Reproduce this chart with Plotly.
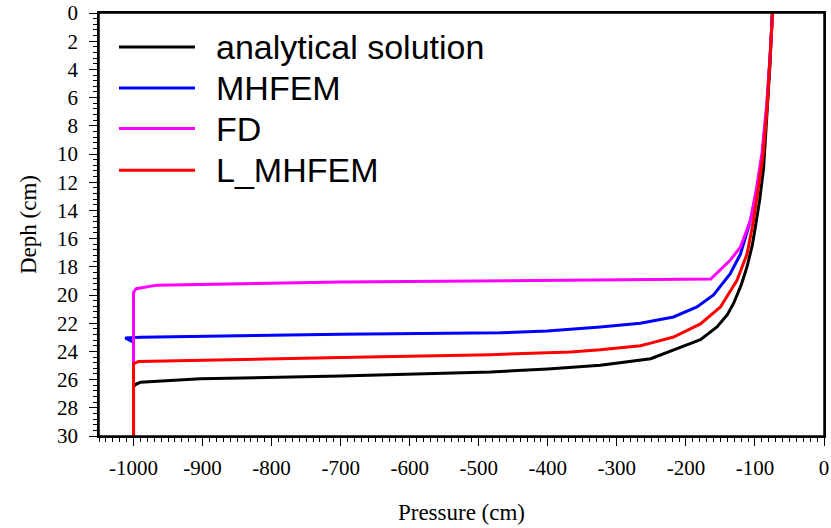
import plotly.graph_objects as go

# ---- data ----
series_names = ["analytical solution", "MHFEM", "FD", "L_MHFEM"]
series_colors = ["#000000", "#0000ff", "#ff00ff", "#ff0000"]

analytical_p = [-1000, -1000, -997, -990, -903, -700, -483, -400, -324, -266, -251,
                -194, -179, -155, -140, -131, -120, -111.5, -104, -99.5, -93.3, -87.5,
                -82, -78, -75]
analytical_z = [30, 26.5, 26.35, 26.18, 25.94, 25.75, 25.46, 25.25, 24.98, 24.6, 24.52,
                23.45, 23.17, 22.27, 21.4, 20.6, 19.3, 18.0, 16.5, 15.2, 13.3, 11.0,
                7.0, 3.5, 0]

mhfem_p = [-1000, -1000, -1012, -990, -700, -469, -401, -324, -266, -251, -218, -184,
           -160, -136, -121, -106.5, -97, -89, -82.5, -78, -74.5]
mhfem_z = [30, 23.35, 23.05, 23.0, 22.79, 22.68, 22.55, 22.27, 22.0, 21.85, 21.56,
           20.85, 20.0, 18.5, 17.1, 14.7, 12.5, 10.0, 6.5, 3.0, 0]

fd_p = [-1000, -1000, -996, -966, -700, -400, -266, -164, -136, -121, -106.5, -98,
        -90, -83, -78, -74.5]
fd_z = [30, 19.8, 19.55, 19.3, 19.08, 18.96, 18.9, 18.87, 17.54, 16.6, 14.7, 12.5,
        10.0, 6.5, 3.0, 0]

lmhfem_p = [-1000, -1000, -993, -910, -700, -483, -367, -324, -266, -251, -218, -179,
            -150, -126, -111.5, -102, -95, -88, -82, -78, -74.5]
lmhfem_z = [30, 24.87, 24.72, 24.63, 24.44, 24.23, 24.04, 23.88, 23.6, 23.41, 22.98,
            22.05, 20.85, 18.96, 17.1, 14.7, 12.5, 10.0, 6.5, 3.0, 0]

x_ticks = [-1000, -900, -800, -700, -600, -500, -400, -300, -200, -100, 0]
y_ticks = list(range(0, 31, 2))

fig = go.Figure()
for name, color, p, z in zip(series_names, series_colors,
                             [analytical_p, mhfem_p, fd_p, lmhfem_p],
                             [analytical_z, mhfem_z, fd_z, lmhfem_z]):
    fig.add_trace(go.Scatter(x=p, y=z, mode="lines", name=name,
                             line=dict(color=color, width=3), showlegend=False))

# plot frame
fig.add_shape(type="rect", xref="paper", yref="paper", x0=0, x1=1, y0=0, y1=1,
              line=dict(color="black", width=1.5), layer="above")

# manual legend (line samples + labels)
leg_y = [46.7, 87.7, 128.3, 170.0]
for name, color, yy in zip(series_names, series_colors, leg_y):
    yp = 1 - (yy - 12.7) / 423
    fig.add_shape(type="line", xref="paper", yref="paper",
                  x0=(119 - 99) / 725, x1=(195 - 99) / 725, y0=yp, y1=yp,
                  line=dict(color=color, width=3))
    fig.add_annotation(text=name, xref="paper", yref="paper",
                       x=(214 - 99) / 725, y=yp,
                       xanchor="left", yanchor="middle", showarrow=False,
                       font=dict(family="Liberation Sans", size=34, color="black"))

serif = "Liberation Serif"
fig.update_layout(
    width=831, height=528,
    margin=dict(l=99, r=7, t=12.7, b=92.3),
    plot_bgcolor="white", paper_bgcolor="white",
    showlegend=False,
    xaxis=dict(range=[-1050, 0], tickvals=x_ticks, ticktext=[str(v) for v in x_ticks],
               automargin=False, ticklabeloverflow="allow",
               ticks="outside", ticklen=8, tickwidth=1.2, tickcolor="black",
               showline=True, linecolor="black", linewidth=1.5, mirror=True,
               showgrid=False, zeroline=False,
               minor=dict(dtick=10, tick0=0, ticks="outside", ticklen=4,
                          tickwidth=1, tickcolor="black", showgrid=False),
               tickfont=dict(family=serif, size=21, color="black"),
               ticklabelstandoff=4,
               title=dict(text="Pressure (cm)", font=dict(family=serif, size=23, color="black"),
                          standoff=25)),
    yaxis=dict(range=[30, 0], tickvals=y_ticks, ticktext=[str(v) for v in y_ticks],
               automargin=False, ticklabeloverflow="allow",
               ticks="outside", ticklen=8, tickwidth=1.2, tickcolor="black",
               showline=True, linecolor="black", linewidth=1.5, mirror=True,
               showgrid=False, zeroline=False,
               minor=dict(dtick=0.4, tick0=0, ticks="outside", ticklen=4,
                          tickwidth=1, tickcolor="black", showgrid=False),
               tickfont=dict(family=serif, size=21, color="black"),
               ticklabelstandoff=7,
               title=dict(text="Deph (cm)", font=dict(family=serif, size=23, color="black"),
                          standoff=14)),
)

# remove the default page margin so the figure sits at the window's top-left corner
fig.write_html("out.html", config={"displayModeBar": False},
               post_script="document.body.style.margin='0';document.body.style.overflow='hidden';")
